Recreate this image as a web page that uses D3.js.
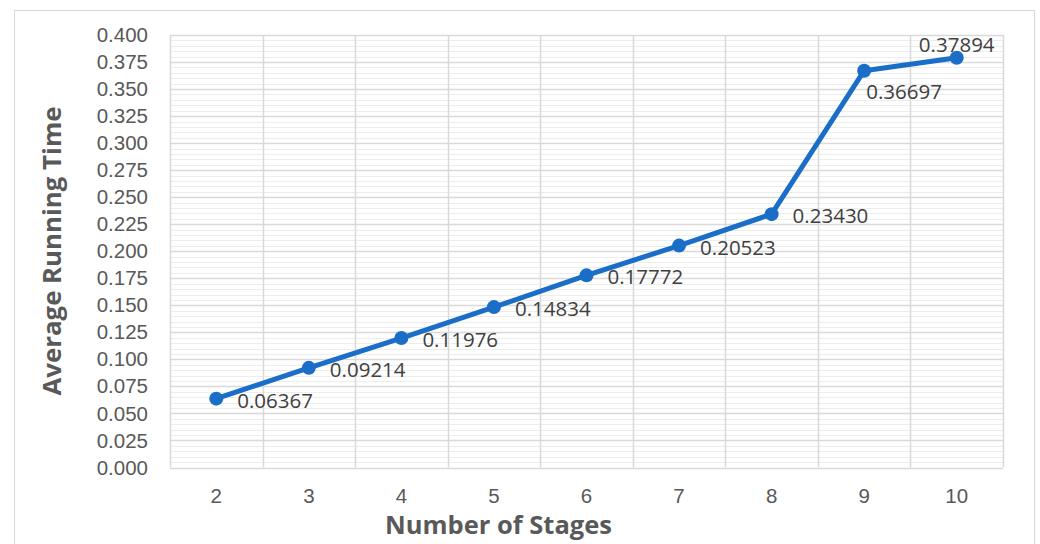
<!DOCTYPE html>
<html>
<head>
<meta charset="utf-8">
<script src="https://cdn.jsdelivr.net/npm/d3@7"></script>
<style>
  body { margin: 0; background: #fff; }
  svg { display: block; font-family: "Open Sans", "Noto Sans", sans-serif; }
</style>
</head>
<body>
<script>
// values
var stages = [2, 3, 4, 5, 6, 7, 8, 9, 10];
var times = [0.06367, 0.09214, 0.11976, 0.14834, 0.17772, 0.20523, 0.23430, 0.36697, 0.37894];
var labelPos = ["right", "right", "right", "right", "right", "right", "right", "below", "above"];
var yTicks = [0, 0.025, 0.05, 0.075, 0.1, 0.125, 0.15, 0.175, 0.2, 0.225, 0.25, 0.275, 0.3, 0.325, 0.35, 0.375, 0.4];

var W = 1040, H = 544;
var plot = { left: 170, right: 1003, top: 35, bottom: 467.5 };

var svg = d3.select("body").append("svg")
    .attr("width", W)
    .attr("height", H);

// chart frame
svg.append("rect")
    .attr("x", 14.5).attr("y", 10.5)
    .attr("width", 1020).attr("height", 560)
    .attr("fill", "none")
    .attr("stroke", "#d9d9d9");

var x = d3.scaleBand().domain(stages).range([plot.left, plot.right]).padding(0);
var y = d3.scaleLinear().domain([0, 0.4]).range([plot.bottom, plot.top]);

// minor horizontal grid
var minor = d3.range(0, 0.4001, 0.005);
svg.append("g").selectAll("line").data(minor).enter().append("line")
    .attr("x1", plot.left).attr("x2", plot.right)
    .attr("y1", function(d) { return Math.round(y(d)) + 0.5; })
    .attr("y2", function(d) { return Math.round(y(d)) + 0.5; })
    .attr("stroke", "#ededed").attr("stroke-width", 1);

// major horizontal grid
svg.append("g").selectAll("line").data(yTicks).enter().append("line")
    .attr("x1", plot.left).attr("x2", plot.right)
    .attr("y1", function(d) { return Math.round(y(d)) + 0.5; })
    .attr("y2", function(d) { return Math.round(y(d)) + 0.5; })
    .attr("stroke", "#d9d9d9").attr("stroke-width", 1.5);

// vertical grid at category boundaries
var bounds = stages.map(function(s) { return x(s); }).concat([plot.right]);
svg.append("g").selectAll("line").data(bounds).enter().append("line")
    .attr("x1", function(d) { return Math.round(d) + 0.5; })
    .attr("x2", function(d) { return Math.round(d) + 0.5; })
    .attr("y1", plot.top).attr("y2", plot.bottom)
    .attr("stroke", "#d9d9d9").attr("stroke-width", 1.5);

// y axis labels
var yAxis = d3.axisLeft(y).tickValues(yTicks).tickFormat(d3.format(".3f")).tickSize(0).tickPadding(22);
var gy = svg.append("g").attr("transform", "translate(" + plot.left + ",0)").call(yAxis);
gy.select(".domain").remove();
gy.selectAll("text").attr("fill", "#595959").style("font-size", "20.5px");

// x axis labels
var xAxis = d3.axisBottom(x).tickSize(0).tickPadding(21);
var gx = svg.append("g").attr("transform", "translate(0," + plot.bottom + ")").call(xAxis);
gx.select(".domain").remove();
gx.selectAll("text").attr("fill", "#595959").style("font-size", "20.5px");

// axis titles
svg.append("text")
    .attr("x", (plot.left + plot.right) / 2 - 88)
    .attr("y", 534)
    .attr("text-anchor", "middle")
    .attr("fill", "#595959")
    .style("font-size", "25.5px").style("font-weight", "bold")
    .text("Number of Stages");

svg.append("text")
    .attr("transform", "translate(61,251) rotate(-90)")
    .attr("text-anchor", "middle")
    .attr("fill", "#595959")
    .style("font-size", "25.8px").style("font-weight", "bold")
    .text("Average Running Time");

// line + markers
var cx = function(i) { return x(stages[i]) + x.bandwidth() / 2; };
var line = d3.line()
    .x(function(d, i) { return cx(i); })
    .y(function(d) { return y(d); });

svg.append("path")
    .datum(times)
    .attr("d", line)
    .attr("fill", "none")
    .attr("stroke", "#1b6ec8")
    .attr("stroke-width", 5)
    .attr("stroke-linejoin", "round");

svg.append("g").selectAll("circle").data(times).enter().append("circle")
    .attr("cx", function(d, i) { return cx(i); })
    .attr("cy", function(d) { return y(d); })
    .attr("r", 7)
    .attr("fill", "#1b6ec8");

// data labels
svg.append("g").selectAll("text").data(times).enter().append("text")
    .attr("x", function(d, i) {
        if (labelPos[i] == "right") return cx(i) + 21;
        if (labelPos[i] == "below") return cx(i) + 2;
        return cx(i);
    })
    .attr("y", function(d, i) {
        if (labelPos[i] == "right") return y(d) + 9;
        if (labelPos[i] == "below") return y(d) + 28;
        return y(d) - 6;
    })
    .attr("text-anchor", function(d, i) { return labelPos[i] == "above" ? "middle" : "start"; })
    .attr("fill", "#404040")
    .style("font-size", "20.5px")
    .text(function(d) { return d3.format(".5f")(d); });
</script>
</body>
</html>
